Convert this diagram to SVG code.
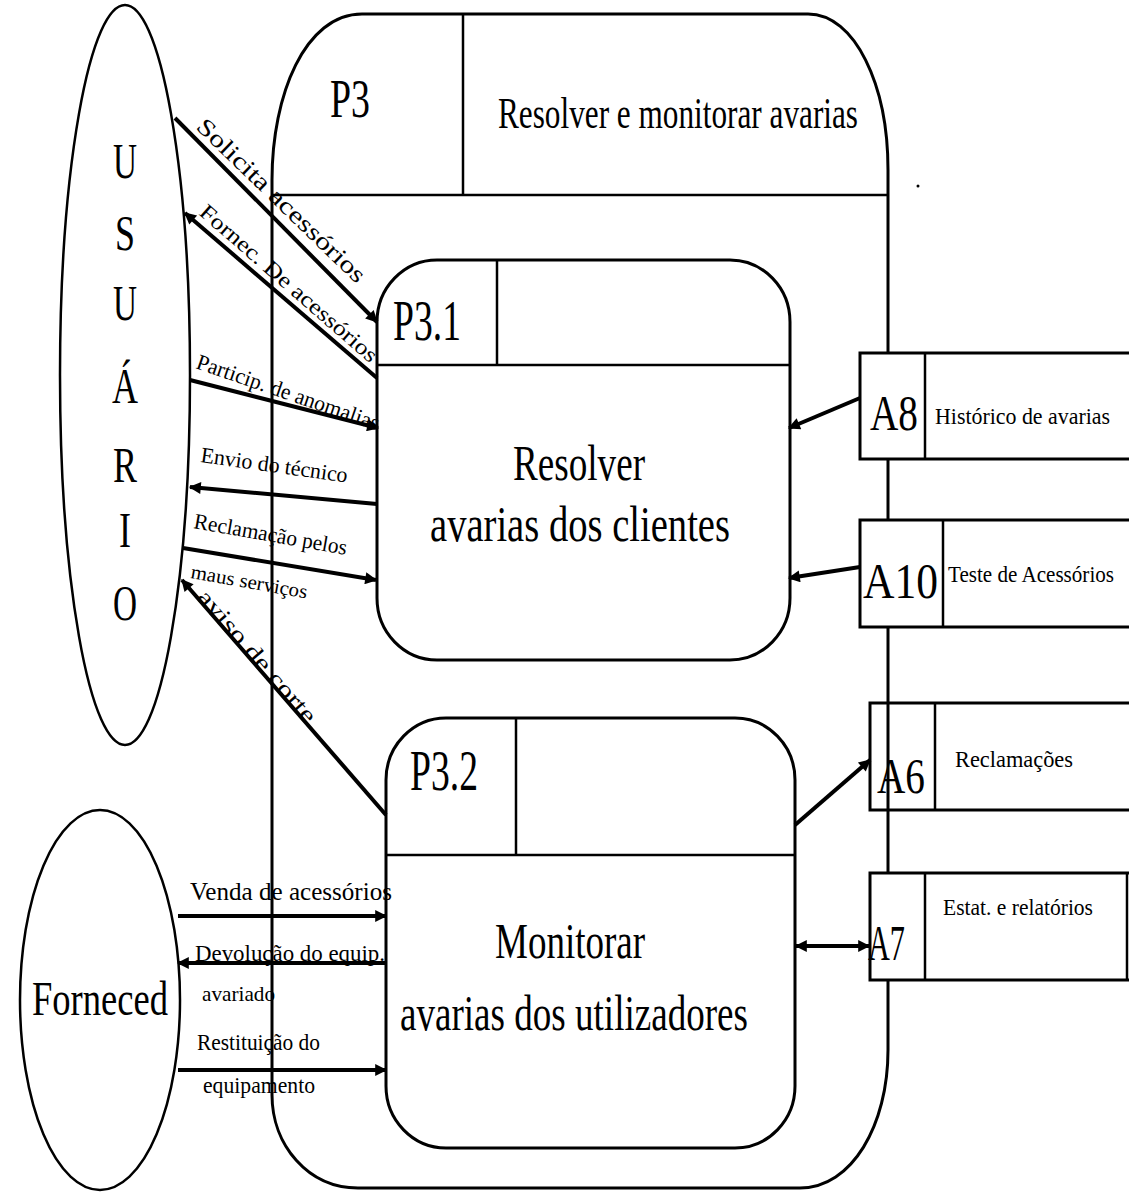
<svg xmlns="http://www.w3.org/2000/svg" width="1129" height="1193" viewBox="0 0 1129 1193">
  <style>
    .t { font-family: "Liberation Serif", "Times New Roman", serif; fill: #000; }
    .box { fill: none; stroke: #000; stroke-width: 3; }
    .fill { fill: #fff; stroke: #000; stroke-width: 3; }
    .ell { fill: none; stroke: #000; stroke-width: 2.5; }
    .div { stroke: #000; stroke-width: 2.5; fill: none; }
    .flow { stroke: #000; stroke-width: 4; fill: none; }
  </style>
  <defs>
    <marker id="ah" viewBox="0 0 10 10" refX="9" refY="5" markerWidth="14" markerHeight="12" markerUnits="userSpaceOnUse" orient="auto-start-reverse">
      <path d="M0,0 L10,5 L0,10 Z" fill="#000"/>
    </marker>
  </defs>
  <rect width="1129" height="1193" fill="#fff"/>

  <!-- P3: enclosing process -->
  <g id="P3">
    <path class="box" d="M272,1095 L272,180 C272,95 305,14 362,14 L808,14 C855,14 888,85 888,170 L888,1050 C888,1125 852,1188 800,1188 L358,1188 C308,1188 272,1145 272,1095 Z"/>
    <line class="div" x1="272" y1="195" x2="888" y2="195"/>
    <line class="div" x1="463" y1="14" x2="463" y2="195"/>
    <text class="t" x="330" y="117" font-size="54" textLength="40" lengthAdjust="spacingAndGlyphs">P3</text>
    <text class="t" x="498" y="128" font-size="44" textLength="360" lengthAdjust="spacingAndGlyphs">Resolver e monitorar avarias</text>
  </g>

  <!-- External entity: USUÁRIO -->
  <g id="usuario">
    <ellipse class="ell" cx="125" cy="375" rx="65" ry="370"/>
    <g class="t" font-size="50" text-anchor="middle">
      <text x="125" y="178" textLength="24" lengthAdjust="spacingAndGlyphs">U</text>
      <text x="125" y="250" textLength="20" lengthAdjust="spacingAndGlyphs">S</text>
      <text x="125" y="320" textLength="24" lengthAdjust="spacingAndGlyphs">U</text>
      <text x="125" y="403" textLength="26" lengthAdjust="spacingAndGlyphs">Á</text>
      <text x="125" y="482" textLength="24" lengthAdjust="spacingAndGlyphs">R</text>
      <text x="125" y="547" textLength="12" lengthAdjust="spacingAndGlyphs">I</text>
      <text x="125" y="620" textLength="24" lengthAdjust="spacingAndGlyphs">O</text>
    </g>
  </g>

  <!-- External entity: Forneced -->
  <g id="forneced">
    <ellipse class="ell" cx="100" cy="1000" rx="80" ry="190"/>
    <text class="t" x="32" y="1015" font-size="48" textLength="136" lengthAdjust="spacingAndGlyphs">Forneced</text>
  </g>

  <!-- P3.1 -->
  <g id="P3_1">
    <rect class="box" x="377" y="260" width="413" height="400" rx="60" ry="62"/>
    <line class="div" x1="377" y1="365" x2="790" y2="365"/>
    <line class="div" x1="497" y1="260" x2="497" y2="365"/>
    <text class="t" x="393" y="340" font-size="56" textLength="68" lengthAdjust="spacingAndGlyphs">P3.1</text>
    <text class="t" x="513" y="480" font-size="50" textLength="132" lengthAdjust="spacingAndGlyphs">Resolver</text>
    <text class="t" x="430" y="541" font-size="50" textLength="300" lengthAdjust="spacingAndGlyphs">avarias dos clientes</text>
  </g>

  <!-- P3.2 -->
  <g id="P3_2">
    <rect class="box" x="386" y="718" width="409" height="430" rx="60" ry="62"/>
    <line class="div" x1="386" y1="855" x2="795" y2="855"/>
    <line class="div" x1="516" y1="718" x2="516" y2="855"/>
    <text class="t" x="410" y="790" font-size="56" textLength="68" lengthAdjust="spacingAndGlyphs">P3.2</text>
    <text class="t" x="495" y="958" font-size="50" textLength="150" lengthAdjust="spacingAndGlyphs">Monitorar</text>
    <text class="t" x="400" y="1030" font-size="50" textLength="348" lengthAdjust="spacingAndGlyphs">avarias dos utilizadores</text>
  </g>

  <!-- Data stores -->
  <g id="A8">
    <path class="fill" d="M1131,353 L860,353 L860,459 L1131,459"/>
    <line class="div" x1="925" y1="353" x2="925" y2="459"/>
    <text class="t" x="870" y="430" font-size="50" textLength="48" lengthAdjust="spacingAndGlyphs">A8</text>
    <text class="t" x="935" y="424" font-size="24" textLength="175" lengthAdjust="spacingAndGlyphs">Histórico de avarias</text>
  </g>
  <g id="A10">
    <path class="fill" d="M1131,520 L860,520 L860,627 L1131,627"/>
    <line class="div" x1="943" y1="520" x2="943" y2="627"/>
    <text class="t" x="863" y="598" font-size="50" textLength="75" lengthAdjust="spacingAndGlyphs">A10</text>
    <text class="t" x="948" y="582" font-size="23" textLength="166" lengthAdjust="spacingAndGlyphs">Teste de Acessórios</text>
  </g>
  <g id="A6">
    <path class="box" d="M1131,703 L870,703 L870,810 L1131,810"/>
    <line class="div" x1="935" y1="703" x2="935" y2="810"/>
    <text class="t" x="877" y="793" font-size="50" textLength="48" lengthAdjust="spacingAndGlyphs">A6</text>
    <text class="t" x="955" y="767" font-size="24" textLength="118" lengthAdjust="spacingAndGlyphs">Reclamações</text>
  </g>
  <g id="A7">
    <path class="fill" d="M1131,873 L870,873 L870,980 L1131,980"/>
    <line class="div" x1="925" y1="873" x2="925" y2="980"/>
    <line class="div" x1="1127" y1="873" x2="1127" y2="980"/>
    <text class="t" x="868" y="960" font-size="50" textLength="37" lengthAdjust="spacingAndGlyphs">A7</text>
    <text class="t" x="943" y="915" font-size="24" textLength="150" lengthAdjust="spacingAndGlyphs">Estat. e relatórios</text>
  </g>

  <circle cx="918" cy="186" r="1.5" fill="#000"/>

  <!-- Data flows -->
  <g id="connectors">
    <line class="flow" x1="175" y1="118" x2="377" y2="322" marker-end="url(#ah)"/>
    <line class="flow" x1="377" y1="378" x2="185" y2="213" marker-end="url(#ah)"/>
    <line class="flow" x1="190" y1="380" x2="378" y2="428" marker-end="url(#ah)"/>
    <line class="flow" x1="377" y1="504" x2="190" y2="487" marker-end="url(#ah)"/>
    <line class="flow" x1="183" y1="548" x2="376" y2="580" marker-end="url(#ah)"/>
    <line class="flow" x1="386" y1="815" x2="182" y2="580" marker-end="url(#ah)"/>
    <line class="flow" x1="178" y1="916" x2="386" y2="916" marker-end="url(#ah)"/>
    <line class="flow" x1="386" y1="963" x2="178" y2="963" marker-end="url(#ah)"/>
    <line class="flow" x1="178" y1="1070" x2="386" y2="1070" marker-end="url(#ah)"/>
    <line class="flow" x1="860" y1="398" x2="789" y2="428" marker-end="url(#ah)"/>
    <line class="flow" x1="860" y1="567" x2="789" y2="578" marker-end="url(#ah)"/>
    <line class="flow" x1="795" y1="825" x2="870" y2="760" marker-end="url(#ah)"/>
    <line class="flow" x1="796" y1="946" x2="869" y2="946" marker-start="url(#ah)" marker-end="url(#ah)"/>

    <g class="t">
      <text x="195" y="128" font-size="24" transform="rotate(44 195 128)" textLength="225" lengthAdjust="spacingAndGlyphs">Solicita acessórios</text>
      <text x="198" y="214" font-size="22" transform="rotate(41 198 214)" textLength="228" lengthAdjust="spacingAndGlyphs">Fornec. De acessórios</text>
      <text x="195" y="368" font-size="22" transform="rotate(19 195 368)" textLength="192" lengthAdjust="spacingAndGlyphs">Particip. de anomalias</text>
      <text x="200" y="462" font-size="22" transform="rotate(8 200 462)" textLength="148" lengthAdjust="spacingAndGlyphs">Envio do técnico</text>
      <text x="193" y="528" font-size="22" transform="rotate(10 193 528)" textLength="155" lengthAdjust="spacingAndGlyphs">Reclamação pelos</text>
      <text x="190" y="578" font-size="20" transform="rotate(10 190 578)" textLength="118" lengthAdjust="spacingAndGlyphs">maus serviços</text>
      <text x="196" y="598" font-size="24" transform="rotate(49 196 598)" textLength="168" lengthAdjust="spacingAndGlyphs">aviso de corte</text>
      <text x="190" y="900" font-size="26" textLength="202" lengthAdjust="spacingAndGlyphs">Venda de acessórios</text>
      <text x="195" y="961" font-size="24" textLength="190" lengthAdjust="spacingAndGlyphs">Devolução do equip.</text>
      <text x="202" y="1001" font-size="22" textLength="73" lengthAdjust="spacingAndGlyphs">avariado</text>
      <text x="197" y="1050" font-size="24" textLength="123" lengthAdjust="spacingAndGlyphs">Restituição do</text>
      <text x="203" y="1093" font-size="24" textLength="112" lengthAdjust="spacingAndGlyphs">equipamento</text>
    </g>
  </g>
</svg>
